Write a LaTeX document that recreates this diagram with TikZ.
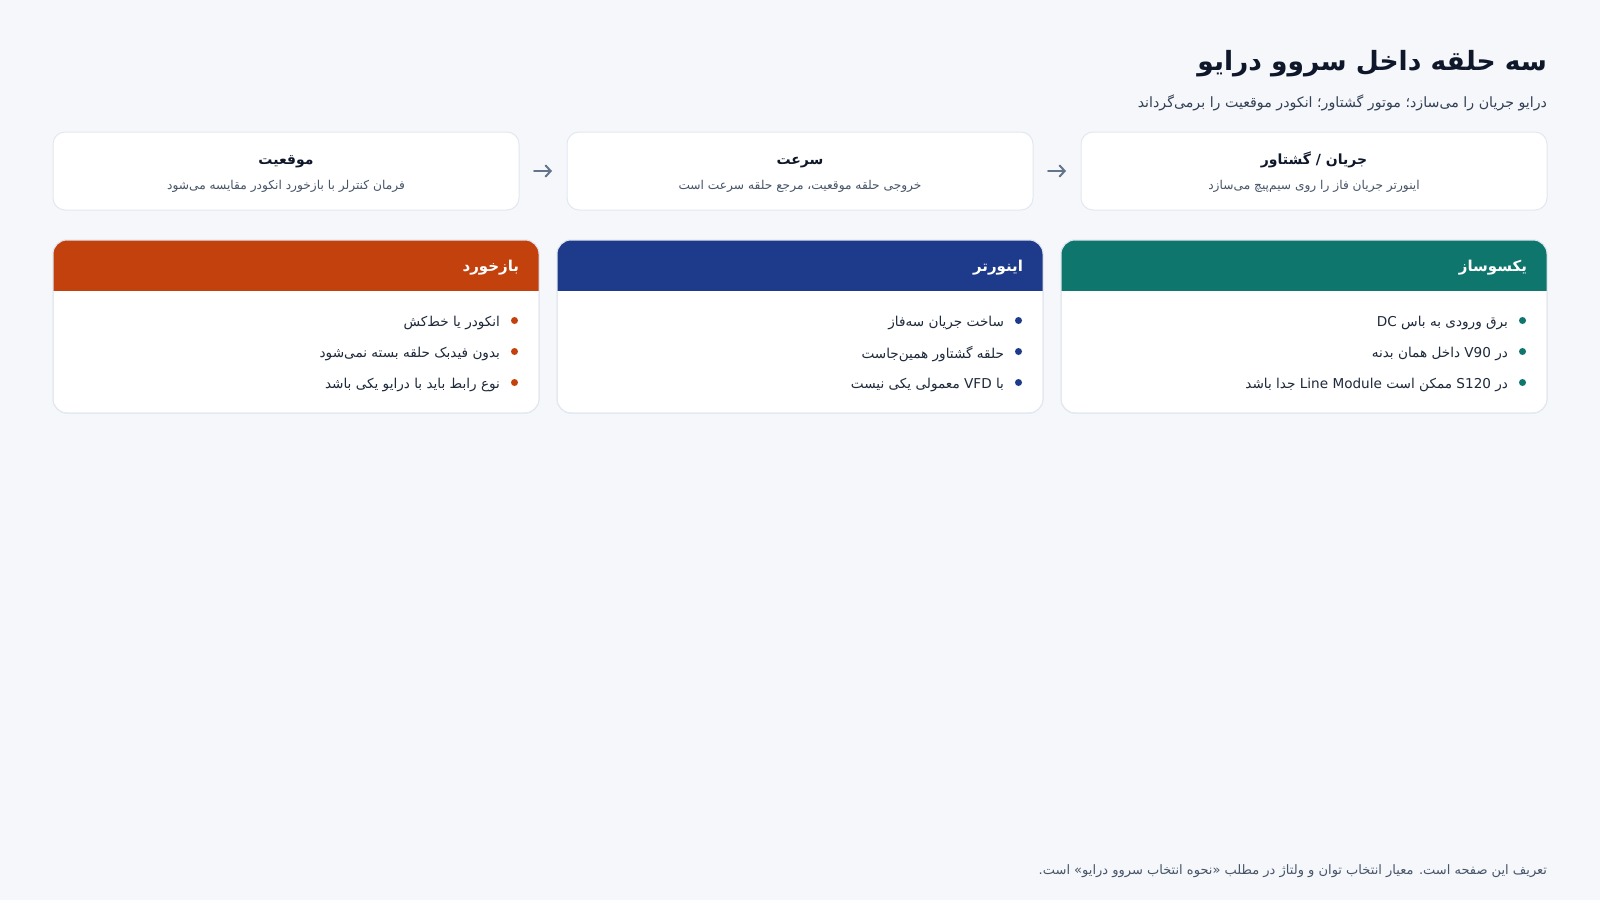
\documentclass[tikz,border=0pt]{standalone}
\usepackage{fontspec}
\usetikzlibrary{arrows.meta}
\TeXXeTstate=1
\newfontfamily\fa[Script=Arabic]{DejaVu Sans}
\newcommand{\rtltext}[1]{\beginR #1\endR}
\definecolor{bg}{HTML}{F5F7FB}
\definecolor{ink}{HTML}{0F172A}
\definecolor{subink}{HTML}{334155}
\definecolor{muted}{HTML}{475569}
\definecolor{bodyink}{HTML}{1E293B}
\definecolor{edge}{HTML}{E2E8F0}
\definecolor{arrowgray}{HTML}{64748B}
\definecolor{cteal}{HTML}{0F766E}
\definecolor{cblue}{HTML}{1E3A8A}
\definecolor{corange}{HTML}{C2410C}
\tikzset{
  stepcard/.style={draw=edge, line width=1pt, fill=white, rounded corners=12pt,
    minimum width=466pt, minimum height=78pt, inner sep=0pt, outer sep=0pt},
  bigcard/.style={draw=edge, line width=1pt, fill=white, rounded corners=14pt,
    minimum width=486pt, minimum height=173pt, inner sep=0pt, outer sep=0pt},
  txt/.style={inner sep=0pt, outer sep=0pt},
  steptitle/.style={txt, anchor=base, text=ink, font=\fa\bfseries\fontsize{14}{17}\selectfont},
  stepsub/.style={txt, anchor=base, text=muted, font=\fa\fontsize{12.2}{15}\selectfont},
  headtxt/.style={txt, anchor=east, text=white, font=\fa\bfseries\fontsize{15}{18}\selectfont},
  itemtxt/.style={txt, anchor=east, text=bodyink, font=\fa\fontsize{13.6}{17}\selectfont},
  dot/.style={circle, inner sep=0pt, minimum size=7pt},
  flowarrow/.style={draw=arrowgray, line width=2pt, line cap=round,
    -{Straight Barb[length=5pt,width=11pt,line cap=round]}, shorten <=15pt, shorten >=15pt}
}
\begin{document}
\begin{tikzpicture}[x=1pt,y=-1pt]
\fill[bg] (0,0) rectangle (1600,900);
\useasboundingbox (0,0) rectangle (1600,900);

% title
\node[txt, anchor=east, text=ink, font=\fa\bfseries\fontsize{26.5}{32}\selectfont] (title) at (1547,64)
  {\rtltext{سه حلقه داخل سروو درایو}};
\node[txt, anchor=east, text=subink, font=\fa\fontsize{14.2}{17}\selectfont] (subtitle) at (1547,103)
  {\rtltext{درایو جریان را می‌سازد؛ موتور گشتاور؛ انکودر موقعیت را برمی‌گرداند}};

% step cards
\node[stepcard] (s1) at (1314,171) {};
\node[steptitle] (s1t) at (1314,164) {\rtltext{جریان / گشتاور}};
\node[stepsub] (s1s) at (1314,189) {\rtltext{اینورتر جریان فاز را روی سیم‌پیچ می‌سازد}};

\node[stepcard] (s2) at (800,171) {};
\node[steptitle] (s2t) at (800,164) {\rtltext{سرعت}};
\node[stepsub] (s2s) at (800,189) {\rtltext{خروجی حلقه موقعیت، مرجع حلقه سرعت است}};

\node[stepcard] (s3) at (286,171) {};
\node[steptitle] (s3t) at (286,164) {\rtltext{موقعیت}};
\node[stepsub] (s3s) at (286,189) {\rtltext{فرمان کنترلر با بازخورد انکودر مقایسه می‌شود}};

\draw[flowarrow] (s3.east) -- (s2.west);
\draw[flowarrow] (s2.east) -- (s1.west);

% big cards
\foreach \nm/\cx/\col in {c1/1304/cteal, c2/800/cblue, c3/296/corange}{
  \node[bigcard] (\nm) at (\cx,326.5) {};
  \begin{scope}
    \clip[rounded corners=14pt] (\nm.south west) rectangle (\nm.north east);
    \fill[\col] (\nm.north west) rectangle ([yshift=-51pt]\nm.north east);
  \end{scope}
  \draw[edge, line width=1pt, rounded corners=14pt] (\nm.south west) rectangle (\nm.north east);
}

% card 1
\node[headtxt] (h1) at (1527,268) {\rtltext{یکسوساز}};
\node[dot, fill=cteal] (d11) at (1522.5,320.5) {};
\node[dot, fill=cteal] (d12) at (1522.5,351.5) {};
\node[dot, fill=cteal] (d13) at (1522.5,382.5) {};
\node[itemtxt] (t11) at (1508,323) {\rtltext{برق ورودی به باس DC}};
\node[itemtxt] (t12) at (1508,354) {\rtltext{در V90 داخل همان بدنه}};
\node[itemtxt] (t13) at (1508,385) {\rtltext{در S120 ممکن است \beginL Line Module\endL{} جدا باشد}};

% card 2
\node[headtxt] (h2) at (1023,268) {\rtltext{اینورتر}};
\node[dot, fill=cblue] (d21) at (1018.5,320.5) {};
\node[dot, fill=cblue] (d22) at (1018.5,351.5) {};
\node[dot, fill=cblue] (d23) at (1018.5,382.5) {};
\node[itemtxt] (t21) at (1004,323) {\rtltext{ساخت جریان سه‌فاز}};
\node[itemtxt] (t22) at (1004,354) {\rtltext{حلقه گشتاور همین‌جاست}};
\node[itemtxt] (t23) at (1004,385) {\rtltext{با VFD معمولی یکی نیست}};

% card 3
\node[headtxt] (h3) at (519,268) {\rtltext{بازخورد}};
\node[dot, fill=corange] (d31) at (514.5,320.5) {};
\node[dot, fill=corange] (d32) at (514.5,351.5) {};
\node[dot, fill=corange] (d33) at (514.5,382.5) {};
\node[itemtxt] (t31) at (500,323) {\rtltext{انکودر یا خط‌کش}};
\node[itemtxt] (t32) at (500,354) {\rtltext{بدون فیدبک حلقه بسته نمی‌شود}};
\node[itemtxt] (t33) at (500,385) {\rtltext{نوع رابط باید با درایو یکی باشد}};

% footer
\node[txt, anchor=east, text=muted, font=\fa\fontsize{13}{16}\selectfont] (footer) at (1547,871)
  {\rtltext{تعریف این صفحه است. معیار انتخاب توان و ولتاژ در مطلب «نحوه انتخاب سروو درایو» است.}};
\end{tikzpicture}
\end{document}
